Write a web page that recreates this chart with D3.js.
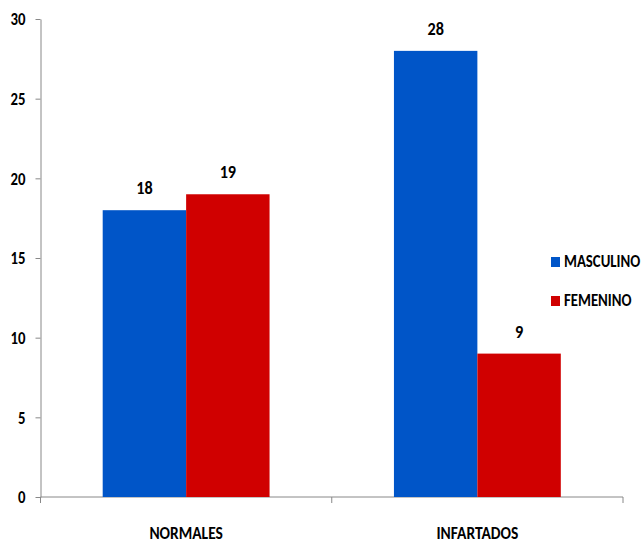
<!DOCTYPE html>
<html>
<head>
<meta charset="utf-8">
<script src="https://cdn.jsdelivr.net/npm/d3@7"></script>
<style>
  body { margin: 0; background: #fff; }
  svg text { font-family: Carlito, Lato, sans-serif; font-weight: bold; fill: #000; }
</style>
</head>
<body>
<script>
// chart data
const categories = ['NORMALES', 'INFARTADOS'];
const seriesNames = ['MASCULINO', 'FEMENINO'];
const masculino = [18, 28];
const femenino = [19, 9];
const yTicks = [0, 5, 10, 15, 20, 25, 30];
const colors = ['#0055c8', '#d00000'];

const svg = d3.select('body').append('svg')
  .attr('width', 644)
  .attr('height', 542);

const plotLeft = 40.5, plotRight = 623, plotTop = 19, plotBottom = 497;

const x = d3.scaleBand().domain(categories).range([plotLeft, plotRight]).paddingInner(0).paddingOuter(0);
const x1 = d3.scaleBand().domain(seriesNames).range([0, x.bandwidth()]).paddingOuter(0.7455).paddingInner(0);
const y = d3.scaleLinear().domain([0, 30]).range([plotBottom, plotTop]);

// y axis
const yAxis = svg.append('g')
  .attr('transform', `translate(${plotLeft},0)`)
  .call(d3.axisLeft(y).tickValues(yTicks).tickSize(5).tickPadding(10).tickSizeOuter(0));
yAxis.select('.domain').attr('stroke', '#888');
yAxis.selectAll('.tick line').attr('stroke', '#888');
yAxis.selectAll('.tick text')
  .attr('x', 0)
  .attr('transform', 'translate(-15,0) scale(0.82,1)')
  .style('font-size', '18px');

// x axis with ticks at category boundaries
const xg = svg.append('g').attr('transform', `translate(0,${plotBottom})`);
xg.append('line').attr('x1', plotLeft).attr('x2', plotRight).attr('stroke', '#888');
const bounds = [plotLeft, ...categories.map(c => x(c) + x.bandwidth())];
xg.selectAll('.bt').data(bounds).enter().append('line')
  .attr('x1', d => d).attr('x2', d => d).attr('y1', 0).attr('y2', 6).attr('stroke', '#888');
xg.selectAll('.lbl').data(categories).enter().append('text')
  .attr('transform', d => `translate(${x(d) + x.bandwidth() / 2},42) scale(0.91,1)`)
  .attr('text-anchor', 'middle')
  .style('font-size', '17px')
  .text(d => d);

// bars
const rows = categories.map((c, i) => ({ cat: c, vals: [masculino[i], femenino[i]] }));
const groups = svg.selectAll('.grp').data(rows).enter().append('g')
  .attr('transform', d => `translate(${x(d.cat)},0)`);
groups.selectAll('rect').data(d => d.vals.map((v, j) => ({ v, s: seriesNames[j], j })))
  .enter().append('rect')
  .attr('x', d => x1(d.s))
  .attr('width', x1.bandwidth())
  .attr('y', d => y(d.v))
  .attr('height', d => y(0) - y(d.v))
  .attr('fill', d => colors[d.j]);
groups.selectAll('.val').data(d => d.vals.map((v, j) => ({ v, s: seriesNames[j] })))
  .enter().append('text')
  .attr('transform', d => `translate(${x1(d.s) + x1.bandwidth() / 2},${y(d.v) - 16}) scale(0.9,1)`)
  .attr('text-anchor', 'middle')
  .style('font-size', '18px')
  .text(d => d.v);

// legend
const lg = svg.selectAll('.leg').data(seriesNames).enter().append('g')
  .attr('transform', (d, i) => `translate(551,${267 + i * 39})`);
lg.append('rect').attr('x', 0).attr('y', -10).attr('width', 9).attr('height', 10)
  .attr('fill', (d, i) => colors[i]);
lg.append('text').attr('transform', 'translate(13,0) scale(0.87,1)').style('font-size', '17px').text(d => d);
</script>
</body>
</html>
